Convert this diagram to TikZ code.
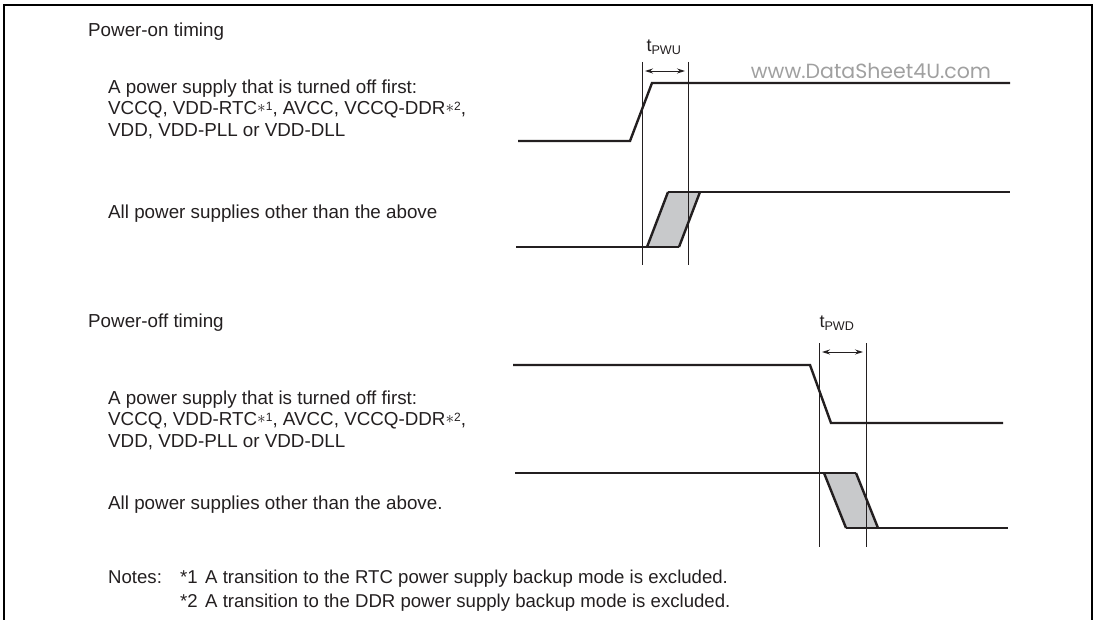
\documentclass[tikz,border=0pt]{standalone}
\usepackage{fontspec}
\setmainfont{Liberation Sans}
\newfontfamily\wmfont{Poppins}
\usetikzlibrary{arrows.meta}
\definecolor{ink}{HTML}{231F20}
\definecolor{greyfill}{HTML}{C8C9CB}
\definecolor{wm}{HTML}{A0A0A0}
\newcommand{\astsup}[1]{\raisebox{2pt}{$\ast$}\raisebox{4.5pt}{\fontsize{12}{12}\selectfont #1}}
\begin{document}
\begin{tikzpicture}[x=1pt,y=-1pt,
  lbl/.style={anchor=base west,inner sep=0pt,text=ink,font=\fontsize{18.8}{21}\selectfont,text height=14pt,text depth=4pt},
  block/.style={anchor=north west,inner sep=0pt,text=ink,align=left,font=\fontsize{18.8}{21.5}\selectfont},
  note/.style={anchor=base west,inner sep=0pt,text=ink,font=\fontsize{18.6}{21}\selectfont,text height=14pt,text depth=4pt},
  sig/.style={line width=2.4pt,draw=ink,line join=miter},
  guide/.style={line width=0.9pt,draw=ink},
  dim/.style={line width=0.9pt,draw=ink,{Stealth[length=8pt,width=5pt]}-{Stealth[length=8pt,width=5pt]}},
  tlbl/.style={inner sep=0pt,text=ink,font=\fontsize{18}{20}\selectfont}]
\useasboundingbox (0,0) rectangle (1100,620);
% frame
\draw[line width=2.4pt,draw=black] (4,622) -- (4,5) -- (1092,5) -- (1092,622);

% ---------- Power-on ----------
\node[lbl] (ontitle) at (88,37) {Power-on timing};
\node[block] (ona) at (108,79.3) {A power supply that is turned off first:\\
VCCQ, VDD-RTC\astsup{1}, AVCC, VCCQ-DDR\astsup{2},\\
VDD, VDD-PLL or VDD-DLL};
\node[lbl] (onb) at (108,219) {All power supplies other than the above};
\node[text=wm,font=\wmfont\fontsize{20.5}{22}\selectfont,inner sep=0pt] (wmark) at (871,71) {www.DataSheet4U.com};

\draw[sig] (518,141) -- (630,141) -- (652,83) -- (1010,83);
\fill[greyfill] (647,247) -- (668,192) -- (700,192) -- (679,247) -- cycle;
\draw[sig] (516,247) -- (679,247);
\draw[sig] (668,192) -- (1010,192);
\draw[sig] (647,247) -- (668,192);
\draw[sig] (679,247) -- (700,192);

\coordinate (u1t) at (642,62); \coordinate (u1b) at (642,265);
\coordinate (u2t) at (688,62); \coordinate (u2b) at (688,265);
\draw[guide] (u1t) -- (u1b);
\draw[guide] (u2t) -- (u2b);
\coordinate (ua) at (645,71); \coordinate (ub) at (685,71);
\draw[dim] (ua) -- (ub);
\node[tlbl] (tpwu) at (664,47) {t\textsubscript{PWU}};

% ---------- Power-off ----------
\node[lbl] (offtitle) at (88,327) {Power-off timing};
\node[block] (offa) at (108,390.3) {A power supply that is turned off first:\\
VCCQ, VDD-RTC\astsup{1}, AVCC, VCCQ-DDR\astsup{2},\\
VDD, VDD-PLL or VDD-DLL};
\node[lbl] (offb) at (108,509) {All power supplies other than the above.};

\draw[sig] (513,365) -- (810,365) -- (831,423) -- (1003,423);
\fill[greyfill] (824,473) -- (856,473) -- (878,528) -- (846,528) -- cycle;
\draw[sig] (515,473) -- (856,473);
\draw[sig] (846,528) -- (1008,528);
\draw[sig] (824,473) -- (846,528);
\draw[sig] (856,473) -- (878,528);

\coordinate (d1t) at (819,343); \coordinate (d1b) at (819,547);
\coordinate (d2t) at (866,343); \coordinate (d2b) at (866,547);
\draw[guide] (d1t) -- (d1b);
\draw[guide] (d2t) -- (d2b);
\coordinate (da) at (822,352); \coordinate (db) at (863,352);
\draw[dim] (da) -- (db);
\node[tlbl] (tpwd) at (837,323) {t\textsubscript{PWD}};

% ---------- Notes ----------
\node[note] (notes) at (108,583) {Notes:};
\node[note] (n1k) at (180,583) {*1};
\node[note] (n1) at (205,583) {A transition to the RTC power supply backup mode is excluded.};
\node[note] (n2k) at (180,607) {*2};
\node[note] (n2) at (205,607) {A transition to the DDR power supply backup mode is excluded.};
\end{tikzpicture}
\end{document}
